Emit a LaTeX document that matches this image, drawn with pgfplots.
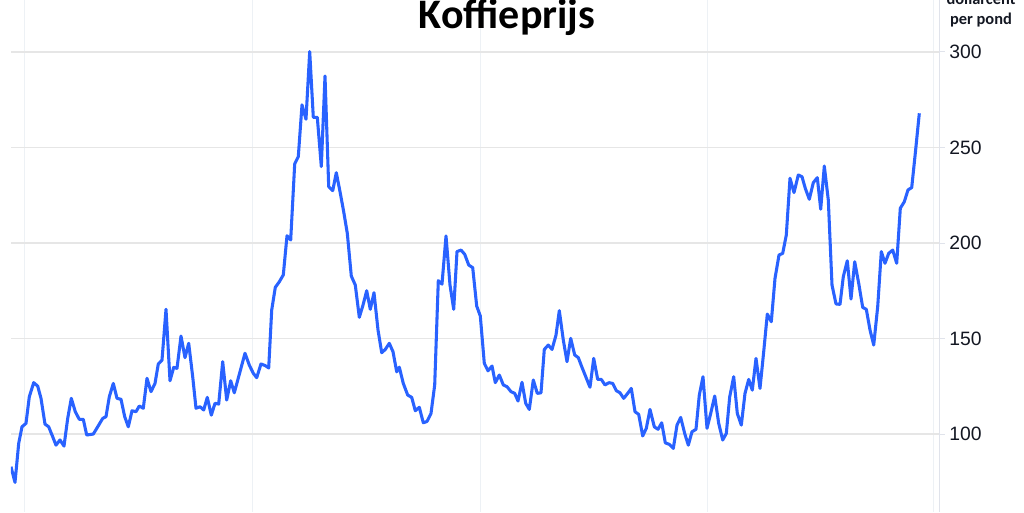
\documentclass[border=0pt]{standalone}
\usepackage{pgfplots}
\pgfplotsset{compat=1.18}
\usepackage{fontspec}
\setmainfont{Liberation Sans}
\newfontfamily\titlefont{Carlito}
\definecolor{lineblue}{HTML}{2962FF}
\definecolor{hgrid}{HTML}{E6E6E6}
\definecolor{vgrid}{HTML}{EDF1F5}
\definecolor{axisgray}{HTML}{E0E3EB}
\definecolor{txt}{HTML}{131722}
\begin{document}
\begin{tikzpicture}[x=1pt,y=1pt]
\useasboundingbox (-8.25,0) rectangle (759.75,384);
\begin{axis}[
  at={(0,0)}, anchor=south west,
  scale only axis, width=696pt, height=384pt,
  xmin=11, xmax=939, ymin=59.2, ymax=327.2,
  axis x line*=bottom, axis y line*=right,
  x axis line style={draw=none},
  y axis line style={draw=axisgray, line width=0.75pt},
  xtick={25,252,480,707,933}, xticklabels={},
  xtick style={draw=none},
  ytick={100,150,200,250,300},
  ytick style={draw=axisgray, line width=0.75pt},
  tick align=outside, major tick length=4.5pt,
  grid=major,
  major x grid style={draw=vgrid, line width=0.75pt},
  major y grid style={draw=hgrid, line width=0.9pt},
  /pgf/number format/assume math mode=true,
  yticklabel style={anchor=west, inner sep=0pt, xshift=3pt, font=\fontsize{14.5}{16}\selectfont, text=txt},
]
\addplot[lineblue, line width=2.3pt, line join=round] coordinates {
(11,82.9) (15,74.7) (18.7,95.1) (22,103.8) (26,105.6) (29.3,119.5) (33.7,126.9) (37.7,125.1)
(41,118.7) (45,105.2) (48.7,103.8) (52.7,98.6) (56,94.2) (60,96.9) (64,93.7) (67.7,108.2)
(71.3,118.7) (75.3,111.7) (79.3,107.7) (83.3,107.7) (86.7,99.5) (93.3,100) (97.7,103.8)
(102.7,108.2) (106,109.1) (109.3,119.5) (113.3,126.5) (117,118.7) (121,118.2) (124.7,109.1)
(128.3,103.8) (132,112.2) (136,111.7)
(139.3,114.7) (143.3,113.5) (147,129.2) (151,122.2) (155,126.5) (158.3,136.7) (162,138.7)
(166,165.3) (170,127.9) (173.7,134.9) (177,134.4) (181,151.3) (185,140) (188.7,147.5)
(192.7,130) (196,113.5) (200,114.3) (203.7,112.6) (207.3,119.2) (211.3,109.9) (215,116.1)
(218.7,115.7) (222.7,137.9) (226.7,117.8) (230.7,127.9) (234.3,121.6) (240,132.6) (245,142.3)
(249.3,136.1) (253.3,131.8) (256.7,129.5) (261,136.7) (265.3,135.8) (268.7,134.6)
(271.7,164.9) (275.3,176.8) (279.3,179.7) (283.3,183.3) (287,203.8) (290.7,201.6) (294.7,241.4)
(298.3,245.2) (302,272.3) (306,264.8) (309.7,300.2) (313.3,265.8) (317.3,265.8) (321.3,240)
(325,287.4) (328.7,229.5) (332.7,227.4) (336.3,236.8) (340,226.9) (343.7,216.4) (347.3,205.1)
(351.3,182.7) (355.3,178) (359.3,161.1) (363,167.5) (366.7,175) (370.3,165.3) (374,174)
(378,154.5) (381.7,142.6) (385.3,144.3) (389.3,147.5) (393,143.1) (396.7,132.6) (399.3,135)
(403.3,126.5) (407.7,120.4) (411.7,119.2) (415.3,112.2) (419.3,114) (423.3,105.9) (427,106.6)
(431,110.8) (434.7,125.7) (438.3,180.3) (442,178.5) (446,203.7) (450,178) (453.7,165.3)
(457,195.5) (461,196.3) (464.7,194.1) (468.7,188.5) (472.7,187.1) (476.7,167) (480.3,161.8)
(484.3,137) (488,133.1) (492,135.6) (495.3,126.9) (499.3,130.9) (503.3,125.7) (507,124.8)
(511,122.2) (514.7,121.3) (518,117.3) (522,127.1) (525.7,116.1) (529.3,112.9)
(533.3,128.3) (537.3,121.3) (541,121.6) (544.3,144.3) (548.3,146.6) (552,144.3) (556,151.8)
(559.3,164.6) (563.3,149.2) (567,137.9) (570.7,150.1) (574.7,141.4) (578.3,140) (582,134.9)
(586,129.7) (590,124.5) (593.7,139.6) (597.7,128.6) (601.3,128.6) (605,125.7) (609,126.9)
(612.7,126.5) (616.3,122.7) (620,121.6) (623.7,118.7) (627.7,121.3) (631.3,123.9) (635,111.7)
(638.7,110.3) (642.7,99) (646.3,103) (650,112.9) (654.3,103.8) (658,102.5)
(661.7,105.9) (665.3,95.4) (669.3,94.6) (673.3,92.5) (677,104.7) (680.7,108.7) (684.7,100.3)
(688.3,94.2) (692,101.2) (696,102.5) (699.3,120.4) (703,130) (707,103) (710.7,110.8)
(714.7,119.9) (718.7,105.6) (722.7,96.9) (726.3,100.3) (729.7,119.5) (733.7,130) (737.3,110.8)
(741.3,104.7) (745,121.3) (748.7,128.6) (752.3,123) (756,139.6) (760,123.9) (763.7,143.1)
(767.3,162.8) (771.3,158.8) (775,181.5) (779,193.7) (782.7,194.6) (786.3,204.2) (790,233.9)
(794,226.4) (798.3,235.6) (802,234.7) (805.3,228.6) (809.3,222.9) (813.3,231.6) (817.3,234.2)
(820.7,217.7) (824.3,240.3) (828.3,222.5) (832,178) (836,168.1) (840,167.9) (843.3,182.4)
(847.3,190.7) (851,170.7) (854.7,190.2) (858.7,178.9) (862.7,166.3) (866.3,165.3) (870,154.5)
(873.7,146.6) (877.7,166.7) (881.3,195.5) (885,189.4) (888.7,194.6) (892.7,196.3) (896.7,189.4)
(900.3,218.2) (904.3,221.6) (908,227.8) (911.7,229) (915.3,247) (919.3,267.9)
};
\end{axis}
\node[anchor=base, font=\titlefont\bfseries\fontsize{31.5}{36}\selectfont, text=black] at (372,362.5) {Koffieprijs};
\node[anchor=base, font=\titlefont\bfseries\fontsize{12.3}{14}\selectfont, text=txt] at (727.5,381) {dollarcent};
\node[anchor=base, font=\titlefont\bfseries\fontsize{12.3}{14}\selectfont, text=txt] at (727.5,366) {per pond};
\end{tikzpicture}
\end{document}
